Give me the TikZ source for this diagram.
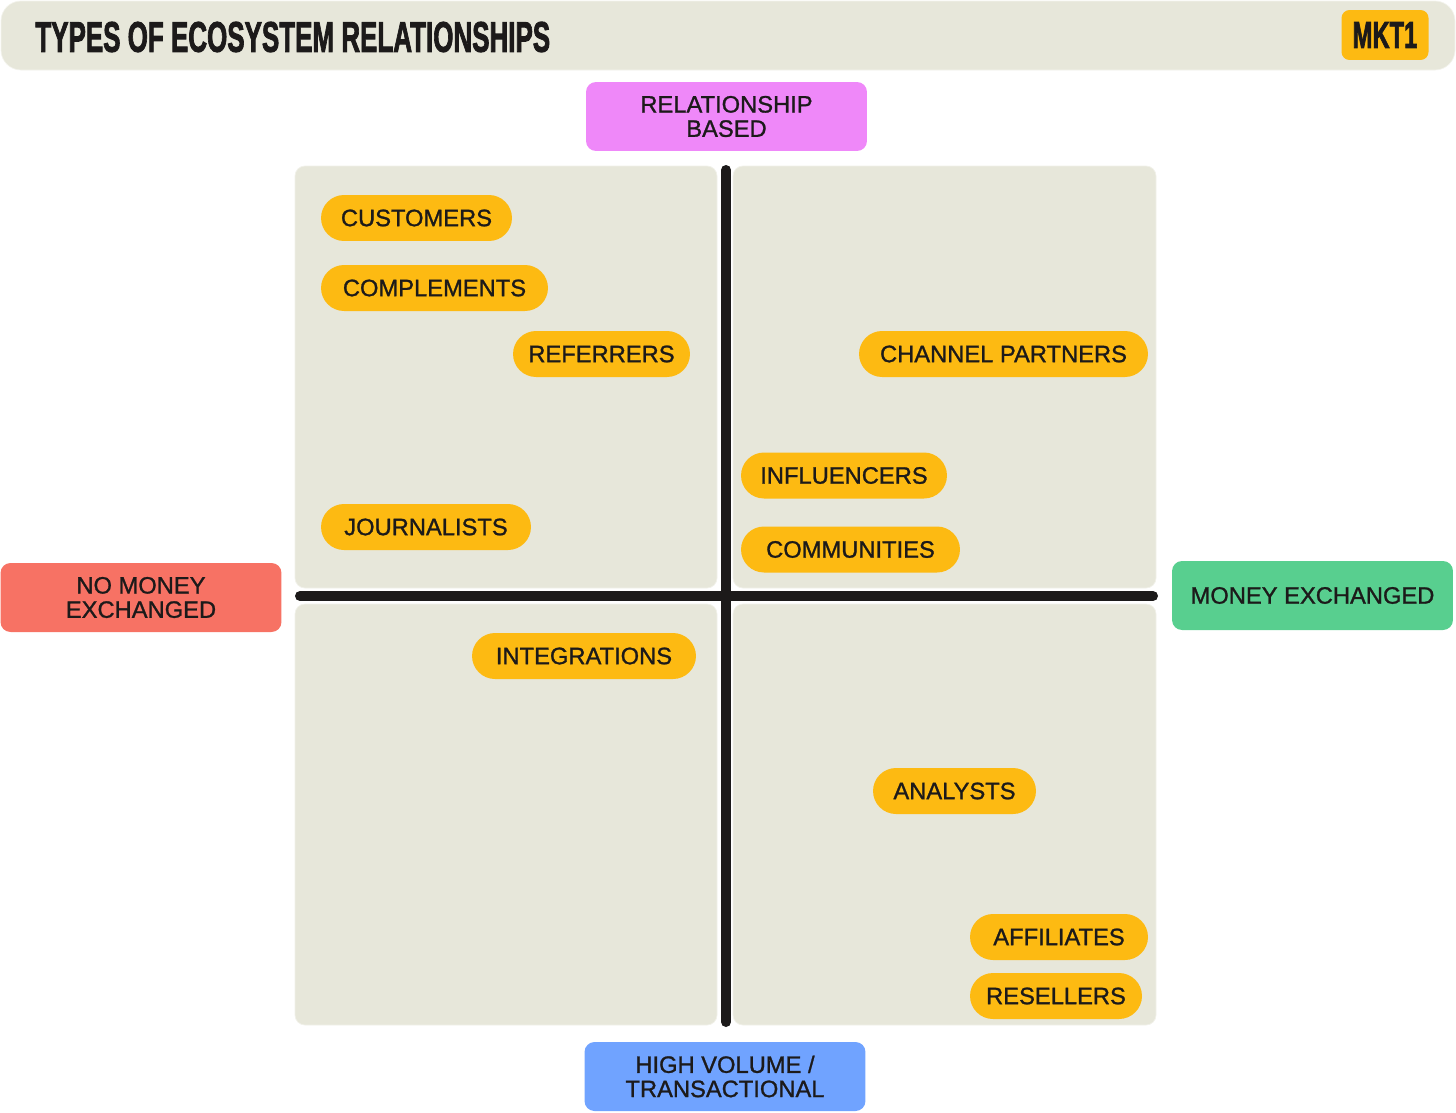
\documentclass[tikz,border=0pt]{standalone}
\usepackage{fontspec}
\setmainfont{Liberation Sans}
\newfontfamily\pillfont[FakeBold=1.1]{Liberation Sans}
\newfontfamily\heavyfont[FakeBold=2.5]{Liberation Sans Bold}
\usetikzlibrary{positioning}
\definecolor{beige}{HTML}{E7E7DA}
\definecolor{pillyel}{HTML}{FDBA12}
\definecolor{ink}{HTML}{1C1A1A}
\definecolor{pinkax}{HTML}{EF88F9}
\definecolor{redax}{HTML}{F77264}
\definecolor{greenax}{HTML}{58CF8F}
\definecolor{blueax}{HTML}{70A3FF}
\begin{document}
\begin{tikzpicture}[x=0.02cm,y=-0.02cm,font=\pillfont\fontsize{13.5}{13.8}\selectfont,text=ink,
 pill/.style={fill=pillyel,rounded corners=0.46cm,minimum height=0.92cm,minimum width=#1,inner xsep=0.1cm,inner ysep=0pt},
 axlabel/.style={rounded corners=0.2cm,minimum width=5.62cm,minimum height=1.38cm,align=center,inner sep=0pt},
 quad/.style={fill=beige,draw=beige!60!white,rounded corners=0.2cm}]
\useasboundingbox (0,0) rectangle (1456,1112);
\draw[fill=beige,draw=beige!50!white,rounded corners=0.4cm] (1,1) rectangle (1455,70);
\node[anchor=west,inner sep=0pt] (title) at (35,37) {\resizebox{293pt}{17pt}{\heavyfont TYPES OF ECOSYSTEM RELATIONSHIPS}};
\node[fill=pillyel,rounded corners=0.16cm,minimum width=1.74cm,minimum height=1.0cm] (logo) at (1385,35) {\resizebox{36.8pt}{14.7pt}{\heavyfont MKT1}};
\draw[quad] (295,166) rectangle (717,588); \draw[quad] (733,166) rectangle (1156,588);
\draw[quad] (295,604) rectangle (717,1025); \draw[quad] (733,604) rectangle (1156,1025);
\coordinate (vtop) at (726,170); \coordinate (vbot) at (726,1022);
\coordinate (hleft) at (300,596); \coordinate (hright) at (1153,596);
\draw[ink,line width=0.2cm,line cap=round] (vtop)--(vbot); \draw[ink,line width=0.2cm,line cap=round] (hleft)--(hright);
\node[axlabel,fill=pinkax] (rel) at (726.5,116.5) {RELATIONSHIP\\BASED};
\node[axlabel,fill=redax] (nomoney) at (141,597.5) {NO MONEY\\EXCHANGED};
\node[axlabel,fill=greenax] (money) at (1312.5,595.5) {MONEY EXCHANGED};
\node[axlabel,fill=blueax] (volume) at (725,1076.5) {HIGH VOLUME /\\TRANSACTIONAL};
\node[pill=3.82cm] (customers) at (416.5,218) {CUSTOMERS};
\node[pill=4.54cm] (complements) at (434.5,288) {COMPLEMENTS};
\node[pill=3.54cm] (referrers) at (601.5,354) {REFERRERS};
\node[pill=4.2cm] (journalists) at (426,527) {JOURNALISTS};
\node[pill=5.78cm] (channel) at (1003.5,354) {CHANNEL PARTNERS};
\node[pill=4.12cm] (influencers) at (844,475.5) {INFLUENCERS};
\node[pill=4.38cm] (communities) at (850.5,549.5) {COMMUNITIES};
\node[pill=4.48cm] (integrations) at (584,656) {INTEGRATIONS};
\node[pill=3.26cm] (analysts) at (954.5,791) {ANALYSTS};
\node[pill=3.56cm] (affiliates) at (1059,937) {AFFILIATES};
\node[pill=3.44cm] (resellers) at (1056,996) {RESELLERS};
\end{tikzpicture}
\end{document}
